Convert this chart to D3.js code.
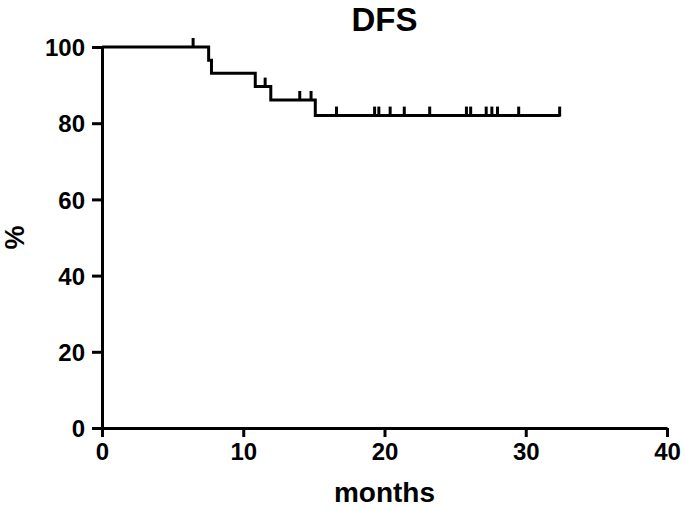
<!DOCTYPE html>
<html>
<head>
<meta charset="utf-8">
<script src="https://cdn.jsdelivr.net/npm/d3@7"></script>
<style>
  body { margin: 0; background: #fff; }
  text { font-family: "Liberation Sans", Arial, sans-serif; font-weight: bold; fill: #000; }
</style>
</head>
<body>
<svg id="chart" width="685" height="510"></svg>
<script>
var width = 685, height = 510;
var margin = {top: 47, right: 18, bottom: 82, left: 102};

// survival steps: month of event, survival % after it
var eventMonths = [7.55, 7.75, 10.85, 11.95, 15.1];
var eventSurv   = [96.5, 93.1, 89.6, 86.1, 82.0];
var lastMonth = 32.4;

// censored observations (months)
var censorMonths = [6.45, 11.55, 14.0, 14.8, 16.6, 19.3, 19.6, 20.4, 21.4, 23.2,
                    25.8, 26.1, 27.2, 27.6, 28.0, 29.5, 32.4];

var xTicks = [0, 10, 20, 30, 40];
var yTicks = [0, 20, 40, 60, 80, 100];

var svg = d3.select("#chart");

var x = d3.scaleLinear().domain([0, 40]).range([margin.left, width - margin.right]);
var y = d3.scaleLinear().domain([0, 100]).range([height - margin.bottom, margin.top]);

// build step points
var pts = [[0, 100]];
eventMonths.forEach(function(m, i) { pts.push([m, eventSurv[i]]); });
pts.push([lastMonth, eventSurv[eventSurv.length - 1]]);

function survAt(m) {
  var s = 100;
  for (var i = 0; i < eventMonths.length; i++) {
    if (eventMonths[i] <= m) s = eventSurv[i];
  }
  return s;
}

var line = d3.line()
  .curve(d3.curveStepAfter)
  .x(function(d) { return x(d[0]); })
  .y(function(d) { return y(d[1]); });

// axes
var xAxis = svg.append("g")
  .attr("transform", "translate(0," + y(0) + ")")
  .call(d3.axisBottom(x).tickValues(xTicks).tickSize(9).tickPadding(6).tickSizeOuter(0));
var yAxis = svg.append("g")
  .attr("transform", "translate(" + x(0) + ",0)")
  .call(d3.axisLeft(y).tickValues(yTicks).tickSize(10).tickPadding(7).tickSizeOuter(0));

[xAxis, yAxis].forEach(function(ax) {
  ax.select(".domain").attr("stroke", "#000").attr("stroke-width", 3);
  ax.selectAll(".tick line").attr("stroke", "#000").attr("stroke-width", 3);
  ax.selectAll(".tick text").style("font-size", "24px").style("font-family", "Liberation Sans, Arial, sans-serif").style("font-weight", "bold").attr("fill", "#000");
});
yAxis.selectAll(".tick text").attr("dy", "0.36em");

// curve
svg.append("path")
  .datum(pts)
  .attr("d", line)
  .attr("fill", "none")
  .attr("stroke", "#000")
  .attr("stroke-width", 3)
  .attr("stroke-linejoin", "miter");

// censor marks
svg.append("g").selectAll("line")
  .data(censorMonths)
  .enter().append("line")
  .attr("x1", function(d) { return x(d); })
  .attr("x2", function(d) { return x(d); })
  .attr("y1", function(d) { return y(survAt(d)) - 9; })
  .attr("y2", function(d) { return y(survAt(d)) + 1; })
  .attr("stroke", "#000")
  .attr("stroke-width", 3);

// title and labels
svg.append("text")
  .attr("x", (x(0) + x(40)) / 2)
  .attr("y", 31)
  .attr("text-anchor", "middle")
  .style("font-size", "33px")
  .text("DFS");

svg.append("text")
  .attr("x", (x(0) + x(40)) / 2)
  .attr("y", 502)
  .attr("text-anchor", "middle")
  .style("font-size", "28px")
  .text("months");

svg.append("text")
  .attr("transform", "translate(24," + y(50) + ") rotate(-90)")
  .attr("text-anchor", "middle")
  .style("font-size", "27px")
  .text("%");
</script>
</body>
</html>
